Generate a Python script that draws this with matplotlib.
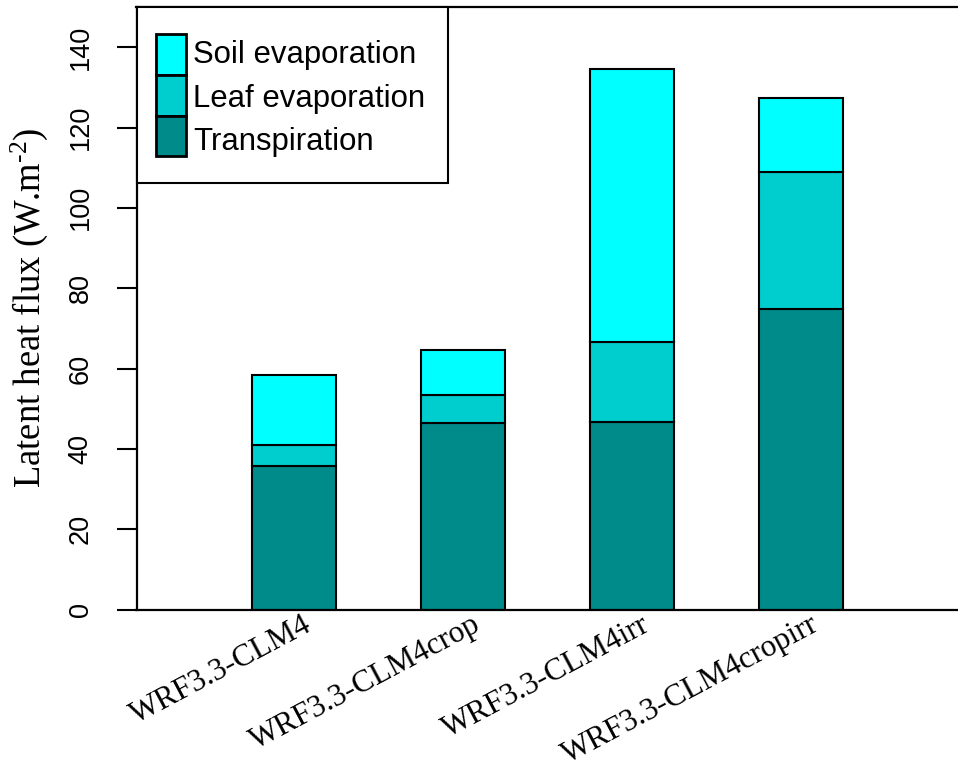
import matplotlib
matplotlib.use("Agg")
import matplotlib.pyplot as plt
import matplotlib.transforms as mtransforms
from matplotlib.patches import Rectangle
import numpy as np

# Latent heat flux components per model configuration (W m-2)
models = ["WRF3.3-CLM4", "WRF3.3-CLM4crop", "WRF3.3-CLM4irr", "WRF3.3-CLM4cropirr"]
transpiration = [35.8, 46.4, 46.6, 74.9]
leaf_evap = [5.1, 6.9, 20.1, 34.0]
soil_evap = [17.5, 11.2, 67.9, 18.4]

components = ["Soil evaporation", "Leaf evaporation", "Transpiration"]
colors = {"Soil evaporation": "#00FFFF",
          "Leaf evaporation": "#00CDCD",
          "Transpiration": "#008B8B"}
yticks = [0, 20, 40, 60, 80, 100, 120, 140]

W, H = 958, 776
plt.rcParams["mathtext.fontset"] = "custom"
plt.rcParams["mathtext.rm"] = "Liberation Serif"
plt.rcParams["mathtext.it"] = "Liberation Serif:italic"

fig = plt.figure(figsize=(W / 100, H / 100), dpi=100)


def fx(x):
    return x / W


def fy(y):
    return 1 - y / H


# plot region in pixels: left 136.5, right (off canvas) 1046, top 7, bottom 609.5
ax = fig.add_axes([fx(136.5), fy(609.5), fx(1046) - fx(136.5), fy(7) - fy(609.5)])
ax.set_xlim(-0.9325, 4.452)
ax.set_ylim(0, 150)

x = np.arange(len(models))
width = 0.5
t = np.array(transpiration)
l = np.array(leaf_evap)
s = np.array(soil_evap)
bar_kw = dict(width=width, edgecolor="black", linewidth=1.5, zorder=2)
ax.bar(x, t, color=colors["Transpiration"], **bar_kw)
ax.bar(x, l, bottom=t, color=colors["Leaf evaporation"], **bar_kw)
ax.bar(x, s, bottom=t + l, color=colors["Soil evaporation"], **bar_kw)

for sp in ax.spines.values():
    sp.set_linewidth(1.6)
    sp.set_color("black")

ax.set_xticks([])
ax.set_yticks(yticks)
ax.set_yticklabels([str(v) for v in yticks], rotation=90, va="center",
                   fontfamily="Liberation Sans", fontsize=19.5)
ax.tick_params(axis="y", length=14.4, width=1.5, pad=16.4, direction="out")

# rotated category labels beneath each bar
off = mtransforms.offset_copy(ax.transData, fig=fig, x=9, y=-0.5, units="dots")
for xi, lab in zip(x, models):
    ax.text(xi, 0, lab, transform=off, rotation=28, rotation_mode="anchor",
            ha="right", va="top", fontfamily="Liberation Serif", fontsize=22.5,
            clip_on=False)

fig.text(fx(40), fy(308), r"Latent heat flux (W.m$^{\text{-2}}$)", rotation=90,
         rotation_mode="anchor", ha="center", va="baseline",
         fontfamily="Liberation Serif", fontsize=26.4)

# legend box
fig.patches.append(Rectangle((fx(136.5), fy(183)), fx(448) - fx(136.5), fy(7) - fy(183),
                             transform=fig.transFigure, facecolor="white",
                             edgecolor="black", linewidth=1.5, zorder=5))
key_tops = [34.5, 75.0, 115.5]
key_h = 40.5
baselines = [62.7, 106.5, 150.3]
for name, top, base in zip(components, key_tops, baselines):
    fig.patches.append(Rectangle((fx(155.7), fy(top + key_h)), fx(185.7) - fx(155.7),
                                 fy(top) - fy(top + key_h),
                                 transform=fig.transFigure,
                                 facecolor=colors[name], edgecolor="black",
                                 linewidth=2, zorder=6))
    fig.text(fx(193), fy(base), name, ha="left", va="baseline",
             fontfamily="Liberation Sans", fontsize=22.4, zorder=7)

fig.savefig("out.png", dpi=100, facecolor="white")
